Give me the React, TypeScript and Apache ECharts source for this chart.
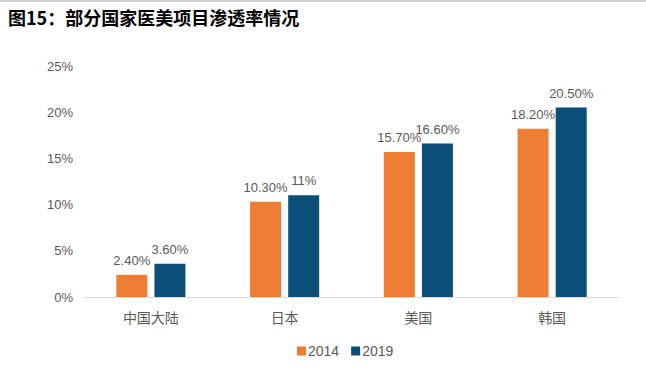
import React, { useEffect, useRef } from "react";
import * as echarts from "echarts";

const categories = ["中国大陆", "日本", "美国", "韩国"];
const values2014 = [2.4, 10.3, 15.7, 18.2];
const values2019 = [3.6, 11, 16.6, 20.5];
const labels2014 = ["2.40%", "10.30%", "15.70%", "18.20%"];
const labels2019 = ["3.60%", "11%", "16.60%", "20.50%"];
const seriesNames = ["2014", "2019"];
const yTicks = [0, 5, 10, 15, 20, 25];

const FONT = "'Liberation Sans', Arial, 'Noto Sans CJK SC', sans-serif";

export default function App() {
  const ref = useRef<HTMLDivElement>(null);
  useEffect(() => {
    if (!ref.current) return;
    const chart = echarts.init(ref.current, undefined, { renderer: "svg" });
    chart.setOption({
      animation: false,
      textStyle: { fontFamily: FONT },
      graphic: [
        {
          type: "rect",
          shape: { x: 0, y: 0, width: 646, height: 2 },
          style: { fill: "#d0d0d0" },
        },
        {
          type: "text",
          left: 8,
          top: 8,
          style: {
            text: "图15：部分国家医美项目渗透率情况",
            font: "bold 18px 'Noto Sans CJK SC', sans-serif",
            fill: "#000",
          },
        },
      ],
      grid: { left: 84, right: 27, top: 66, bottom: 73, containLabel: false },
      legend: {
        bottom: 7,
        left: 292,
        itemWidth: 9,
        itemHeight: 9,
        itemGap: 12,
        icon: "rect",
        textStyle: { fontSize: 14, color: "#595959", fontFamily: FONT, padding: [0, 0, 0, -3] },
        data: seriesNames,
      },
      xAxis: {
        type: "category",
        data: categories,
        axisLine: { lineStyle: { color: "#d9d9d9", width: 1 } },
        axisTick: { show: false },
        axisLabel: { fontSize: 14, color: "#595959", margin: 14, fontFamily: FONT },
      },
      yAxis: {
        type: "value",
        min: yTicks[0],
        max: yTicks[yTicks.length - 1],
        interval: 5,
        axisLine: { show: false },
        axisTick: { show: false },
        splitLine: { show: false },
        axisLabel: {
          fontSize: 13,
          color: "#595959",
          margin: 11,
          formatter: (v: number) => `${v}%`,
        },
      },
      series: [
        {
          name: seriesNames[0],
          type: "bar",
          data: values2014,
          barWidth: 31,
          barGap: "23%",
          itemStyle: { color: "#ED7D31" },
          label: {
            show: true,
            position: "top",
            distance: 8,
            fontSize: 13,
            color: "#595959",
            formatter: (p: any) => labels2014[p.dataIndex],
          },
        },
        {
          name: seriesNames[1],
          type: "bar",
          data: values2019,
          barWidth: 31,
          itemStyle: { color: "#0B4F78" },
          label: {
            show: true,
            position: "top",
            distance: 8,
            fontSize: 13,
            color: "#595959",
            formatter: (p: any) => labels2019[p.dataIndex],
          },
        },
      ],
    });
    return () => chart.dispose();
  }, []);
  return (
    <div
      ref={ref}
      style={{ position: "fixed", left: 0, top: 0, width: 646, height: 370, background: "#fff" }}
    />
  );
}
